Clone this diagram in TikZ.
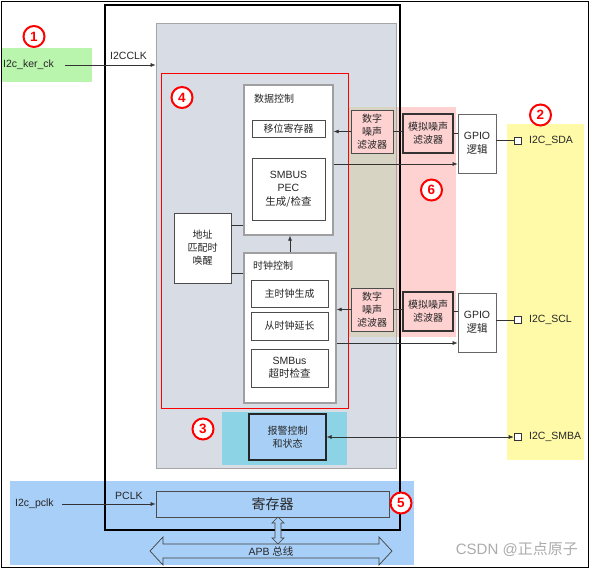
\documentclass[tikz,border=0pt]{standalone}
\usepackage{fontspec}
\setmainfont{Liberation Sans}
\newfontfamily\cjk{Noto Sans CJK SC}
\usepackage{tikz}
\usetikzlibrary{arrows.meta}
\definecolor{kergreen}{RGB}{185,245,173}
\definecolor{pinyellow}{RGB}{255,250,168}
\definecolor{apbblue}{RGB}{168,207,247}
\definecolor{coregray}{RGB}{216,221,229}
\definecolor{filtpink}{RGB}{255,210,210}
\definecolor{filttan}{RGB}{216,212,196}
\definecolor{alertcyan}{RGB}{140,211,230}
\definecolor{alertblue}{RGB}{168,208,247}

\begin{document}
\begin{tikzpicture}[x=1pt,y=-1pt,
  every node/.style={inner sep=0pt,text=black!85},
  latin/.style={font=\fontsize{10.5}{13.5}\selectfont},
  han/.style={font=\cjk\fontsize{10}{13}\selectfont},
  ctlbox/.style={draw=gray!75,line width=1.4pt,fill=white},
  subbox/.style={draw=black!70,line width=0.8pt,fill=white,align=center},
  filtbox/.style={draw=black!70,line width=0.8pt,fill=filtpink,align=center,han},
  anabox/.style={draw=black!80,line width=1.3pt,fill=filtpink,align=center,han},
  gpiobox/.style={draw=black!60,line width=0.8pt,fill=white,align=center,latin},
  pin/.style={draw=black!80,line width=0.6pt,fill=white,minimum size=7pt},
  conn/.style={draw=black!80,line width=0.6pt},
  arr/.style={conn,-{Latex[length=5pt,width=4pt]}},
  num/.style={circle,draw=red,line width=2pt,fill=white,minimum size=21pt,
    text=red,font=\bfseries\fontsize{13.5}{13.5}\selectfont}]
  \useasboundingbox (0,0) rectangle (590,570);
  \fill[white] (0,0) rectangle (590,570);
  \draw[line width=0.8pt] (1,1) rectangle (588,567);

  % background regions
  \fill[kergreen] (2,48) rectangle (92,82);
  \fill[pinyellow] (507,124) rectangle (584,460);
  \fill[apbblue] (10,481) rectangle (414,565);

  % I2C core
  \node[draw=gray!70,line width=0.8pt,fill=coregray,minimum width=240pt,
    minimum height=445pt] (core) at (276,245.5) {};
  \fill[filtpink] (396,107) rectangle (456,337);
  \fill[filttan] (349,107) rectangle (396,337);
  \draw[gray!70,line width=0.8pt] (core.north east) -- (core.south east);
  \draw[line width=1.3pt] (105,5) rectangle (400,530);
  \draw[red,line width=0.9pt] (161,73) rectangle (348,408);
  \fill[alertcyan] (222,412) rectangle (347,465);

  % clock input
  \node[latin,anchor=west] (kertxt) at (3,65) {I2c\_ker\_ck};
  \node[latin,anchor=west] (clktxt) at (110,56) {I2CCLK};
  \draw[arr] ([xshift=11pt]kertxt.east) -- (kertxt.east -| core.west);

  % data control
  \node[ctlbox,minimum width=89pt,minimum height=150pt] (dctl) at (288.5,160) {};
  \node[han,anchor=west] (dctltxt) at (254,99) {数据控制};
  \node[subbox,han,minimum width=73pt,minimum height=17pt] (shreg)
    at (288.5,128.5) {移位寄存器};
  \node[subbox,latin,minimum width=73pt,minimum height=62pt] (pec)
    at (288.5,189) {SMBUS\\PEC\\{\cjk 生成/检查}};

  % clock control
  \node[ctlbox,minimum width=92pt,minimum height=150pt] (cctl) at (290,328) {};
  \node[han,anchor=west] (cctltxt) at (253,266) {时钟控制};
  \node[subbox,han,minimum width=77pt,minimum height=27pt] (mclk)
    at (289.5,293.5) {主时钟生成};
  \node[subbox,han,minimum width=77pt,minimum height=28pt] (sclk)
    at (289.5,326) {从时钟延长};
  \node[subbox,latin,minimum width=77pt,minimum height=38pt] (tout)
    at (289.5,368) {SMBus\\{\cjk 超时检查}};

  % address match
  \node[subbox,han,minimum width=57pt,minimum height=70pt] (addr)
    at (202.5,248) {地址\\匹配时\\唤醒};
  \coordinate (addrup) at ([yshift=23pt]addr.east);
  \coordinate (addrdn) at ([yshift=-25pt]addr.east);
  \draw[conn] (addrup) -- (addrup -| dctl.west);
  \draw[conn] (addrdn) -- (addrdn -| cctl.west);
  \draw[arr] (cctl.north) -- (cctl.north |- dctl.south);

  % SDA path
  \node[filtbox,minimum width=42pt,minimum height=43pt] (dnf1)
    at (372,131.5) {数字\\噪声\\滤波器};
  \node[anabox,minimum width=50pt,minimum height=39pt] (anf1)
    at (428,133.5) {模拟噪声\\滤波器};
  \node[gpiobox,minimum width=38pt,minimum height=59pt] (gpio1)
    at (477,143.5) {GPIO\\{\cjk 逻辑}};
  \node[pin] (sda) at (517.5,140.5) {};
  \node[latin,anchor=west] (sdatxt) at (529,140.5) {I2C\_SDA};
  \draw[arr] (dnf1.west) -- (dnf1.west -| dctl.east);
  \draw[conn] (dnf1.east) -- (dnf1.east -| anf1.west);
  \draw[conn] (anf1.east) -- (anf1.east -| gpio1.west);
  \draw[conn] (sda.west -| gpio1.east) -- (sda.west);
  \coordinate (dout) at ([yshift=-4pt]dctl.east);
  \draw[arr] (dout) -- (dout -| gpio1.west);

  % SCL path
  \node[filtbox,minimum width=42pt,minimum height=43pt] (dnf2)
    at (372,309.5) {数字\\噪声\\滤波器};
  \node[anabox,minimum width=50pt,minimum height=39pt] (anf2)
    at (428,311.5) {模拟噪声\\滤波器};
  \node[gpiobox,minimum width=38pt,minimum height=59pt] (gpio2)
    at (477,322.5) {GPIO\\{\cjk 逻辑}};
  \node[pin] (scl) at (517.5,320) {};
  \node[latin,anchor=west] (scltxt) at (529,320) {I2C\_SCL};
  \draw[arr] (dnf2.west) -- (dnf2.west -| cctl.east);
  \draw[conn] (dnf2.east) -- (dnf2.east -| anf2.west);
  \draw[conn] (anf2.east) -- (anf2.east -| gpio2.west);
  \draw[conn] (scl.west -| gpio2.east) -- (scl.west);
  \coordinate (cout) at ([yshift=-15pt]cctl.east);
  \draw[arr] (cout) -- (cout -| gpio2.west);

  % alert
  \node[draw=black!85,line width=1.2pt,fill=alertblue,han,align=center,
    minimum width=77pt,minimum height=46pt] (alert) at (287.5,437) {报警控制\\和状态};
  \node[pin] (smba) at (517.5,437) {};
  \node[latin,anchor=west] (smbatxt) at (529,437) {I2C\_SMBA};
  \draw[conn,{Latex[length=5pt,width=4pt]}-{Latex[length=5pt,width=4pt]}]
    (alert.east) -- (smba.west);

  % registers and APB
  \node[draw=gray!60!black,line width=0.8pt,fill=apbblue,minimum width=233pt,
    minimum height=26pt,font=\cjk\fontsize{14}{14}\selectfont] (reg)
    at (272.5,504) {寄存器};
  \node[latin,anchor=west] (pclktxt) at (15,504) {I2c\_pclk};
  \node[latin,anchor=west] (pclklbl) at (115,496) {PCLK};
  \draw[arr] ([xshift=8pt]pclktxt.east) -- (reg.west);
  \draw[draw=gray!50!black,line width=0.7pt,fill=apbblue]
    (278,517) -- (284,523) -- (281,523) -- (281,538) -- (284,538) -- (278,544)
    -- (272,538) -- (275,538) -- (275,523) -- (272,523) -- cycle;
  \draw[draw=gray!50!black,line width=0.7pt,fill=apbblue]
    (150,551) -- (163,537) -- (163,544) -- (379,544) -- (379,537) -- (392,551)
    -- (379,565) -- (379,558) -- (163,558) -- (163,565) -- cycle;
  \node[font=\fontsize{10.5}{12}\selectfont] (apb) at (271,551) {APB {\cjk 总线}};

  % numbered markers
  \node[num] (n1) at (34,36.5) {1};
  \node[num] (n2) at (540.5,115) {2};
  \node[num] (n3) at (203,429) {3};
  \node[num] (n4) at (182,97.5) {4};
  \node[num] (n5) at (401,503) {5};
  \node[num] (n6) at (431.5,190) {6};

  \node[anchor=east,text=gray!65,font=\fontsize{15}{15}\selectfont] (mark)
    at (578,549) {CSDN @{\cjk 正点原子}};
\end{tikzpicture}
\end{document}
